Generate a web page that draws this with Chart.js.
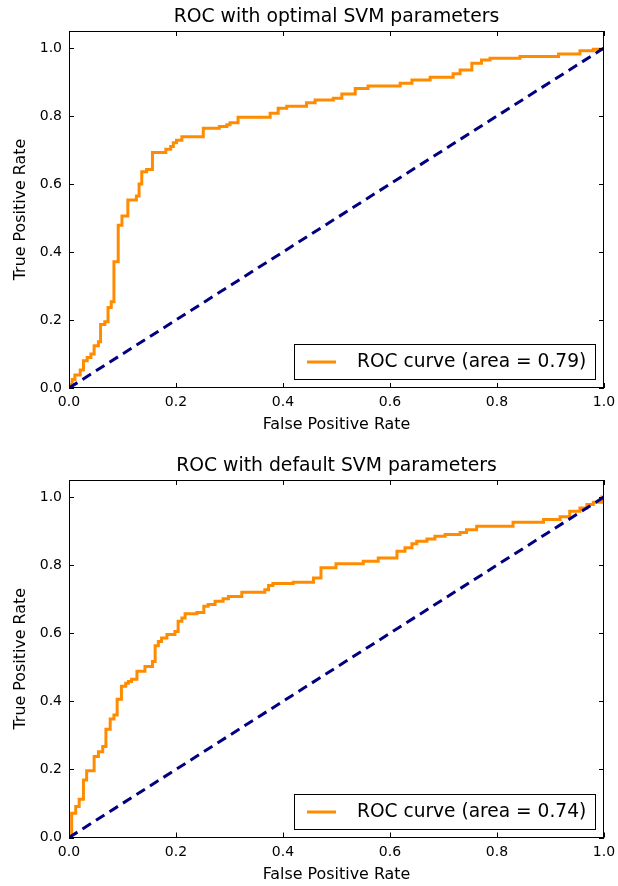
<!DOCTYPE html>
<html>
<head>
<meta charset="utf-8">
<script src="https://cdn.jsdelivr.net/npm/chart.js@4.4.1/dist/chart.umd.min.js"></script>
<style>
  html, body { margin: 0; padding: 0; background: #fff; }
  #wrap { position: relative; width: 618px; height: 886px; }
  canvas { position: absolute; left: 0; }
  #rocTop { top: 0; }
  #rocBottom { top: 449px; }
</style>
</head>
<body>
<div id="wrap">
  <canvas id="rocTop" width="618" height="449"></canvas>
  <canvas id="rocBottom" width="618" height="437"></canvas>
</div>
<script>
// ROC step points (fpr where the step happens, tpr after the step), tuned SVM
const optimalFpr = [0, 0, 0.006, 0.011, 0.021, 0.027, 0.034, 0.041, 0.047, 0.055,
  0.059, 0.067, 0.073, 0.079, 0.084, 0.092, 0.099, 0.110, 0.126, 0.131,
  0.136, 0.145, 0.156, 0.181, 0.190, 0.195, 0.201, 0.211, 0.251, 0.281,
  0.295, 0.301, 0.316, 0.376, 0.391, 0.407, 0.444, 0.460, 0.494, 0.510,
  0.535, 0.559, 0.619, 0.641, 0.675, 0.718, 0.731, 0.753, 0.771, 0.787,
  0.843, 0.915, 0.955, 0.980, 1.0];
const optimalTpr = [0, 0.010, 0.025, 0.038, 0.053, 0.080, 0.090, 0.100, 0.124, 0.136,
  0.187, 0.195, 0.237, 0.254, 0.371, 0.479, 0.506, 0.553, 0.565, 0.600,
  0.636, 0.643, 0.693, 0.702, 0.710, 0.721, 0.729, 0.739, 0.764, 0.769,
  0.774, 0.780, 0.796, 0.808, 0.823, 0.829, 0.839, 0.847, 0.852, 0.865,
  0.881, 0.888, 0.896, 0.906, 0.914, 0.924, 0.935, 0.955, 0.965, 0.970,
  0.975, 0.982, 0.992, 0.996, 1.0];

// ROC step points, SVM with default parameters
const defaultFpr = [0, 0.005, 0.0125, 0.019, 0.027, 0.033, 0.047, 0.055, 0.063, 0.069,
  0.077, 0.084, 0.090, 0.098, 0.106, 0.111, 0.117, 0.127, 0.142, 0.156,
  0.161, 0.167, 0.173, 0.183, 0.198, 0.204, 0.211, 0.217, 0.239, 0.252,
  0.260, 0.273, 0.288, 0.298, 0.323, 0.366, 0.373, 0.381, 0.419, 0.457,
  0.471, 0.499, 0.550, 0.578, 0.613, 0.628, 0.641, 0.650, 0.669, 0.684,
  0.703, 0.731, 0.743, 0.762, 0.830, 0.887, 0.918, 0.936, 0.955, 0.968,
  0.980, 0.996, 1.0];
const defaultTpr = [0, 0.071, 0.091, 0.112, 0.169, 0.196, 0.238, 0.252, 0.267, 0.318,
  0.348, 0.360, 0.406, 0.444, 0.453, 0.458, 0.465, 0.488, 0.502, 0.517,
  0.563, 0.576, 0.586, 0.596, 0.605, 0.635, 0.645, 0.657, 0.661, 0.679,
  0.684, 0.694, 0.701, 0.708, 0.720, 0.728, 0.740, 0.746, 0.750, 0.762,
  0.792, 0.804, 0.811, 0.821, 0.841, 0.851, 0.863, 0.870, 0.877, 0.885,
  0.890, 0.896, 0.904, 0.914, 0.926, 0.934, 0.942, 0.958, 0.968, 0.978,
  0.985, 1.0, 1.0];

// chance diagonal
const chanceFpr = [0, 1];
const chanceTpr = [0, 1];

const aucOptimal = 0.79;
const aucDefault = 0.74;
const rateTicks = [0, 0.2, 0.4, 0.6, 0.8, 1.0];
const titles = ['ROC with optimal SVM parameters', 'ROC with default SVM parameters'];

const FONT = 'DejaVu Sans';

// box frame, inward ticks on all four sides, and the legend box
const frameAndLegend = {
  id: 'frameAndLegend',
  afterDatasetsDraw(chart) {
    const { ctx, chartArea: a, scales } = chart;
    ctx.save();
    ctx.strokeStyle = '#000';
    ctx.lineWidth = 1;
    ctx.beginPath();
    scales.x.ticks.forEach(t => {
      const px = Math.round(scales.x.getPixelForValue(t.value)) + 0.5;
      ctx.moveTo(px, a.bottom); ctx.lineTo(px, a.bottom - 5);
      ctx.moveTo(px, a.top); ctx.lineTo(px, a.top + 5);
    });
    scales.y.ticks.forEach(t => {
      const py = Math.round(scales.y.getPixelForValue(t.value)) + 0.5;
      ctx.moveTo(a.left, py); ctx.lineTo(a.left + 5, py);
      ctx.moveTo(a.right, py); ctx.lineTo(a.right - 5, py);
    });
    ctx.stroke();
    ctx.strokeRect(Math.round(a.left) + 0.5, Math.round(a.top) + 0.5,
      Math.round(a.right - a.left) - 1, Math.round(a.bottom - a.top) - 1);

    const ds = chart.data.datasets.find(d => d.inLegend);
    ctx.font = '18.6px "' + FONT + '"';
    const tw = ctx.measureText(ds.label).width;
    const h = 35;
    const w = Math.round(13 + 29 + 21 + tw + 9);
    const x1 = Math.round(a.right - 9 - w);
    const y1 = Math.round(a.bottom - 9 - h);
    ctx.fillStyle = '#fff';
    ctx.fillRect(x1, y1, w, h);
    ctx.strokeStyle = '#000';
    ctx.lineWidth = 1;
    ctx.strokeRect(x1 + 0.5, y1 + 0.5, w, h);
    const cy = y1 + h / 2 + 0.5;
    ctx.strokeStyle = ds.borderColor;
    ctx.lineWidth = 3;
    ctx.beginPath();
    ctx.moveTo(x1 + 13, cy); ctx.lineTo(x1 + 42, cy);
    ctx.stroke();
    ctx.fillStyle = '#000';
    ctx.textAlign = 'left';
    ctx.textBaseline = 'middle';
    ctx.fillText(ds.label, x1 + 63, cy);
    ctx.restore();
  }
};

function toPoints(xs, ys) {
  return xs.map((x, i) => ({ x: x, y: ys[i] }));
}

function rocChart(id, fpr, tpr, auc, title, xAxisHeight, xTitlePad) {
  return new Chart(document.getElementById(id), {
    type: 'line',
    data: {
      datasets: [
        {
          label: 'chance',
          data: toPoints(chanceFpr, chanceTpr),
          borderColor: '#000080',
          borderWidth: 3,
          borderDash: [10, 6],
          pointRadius: 0,
          tension: 0,
          fill: false
        },
        {
          label: 'ROC curve (area = ' + auc.toFixed(2) + ')',
          inLegend: true,
          data: toPoints(fpr, tpr),
          borderColor: '#ff8c00',
          borderWidth: 3,
          stepped: 'before',
          borderJoinStyle: 'miter',
          pointRadius: 0,
          fill: false
        }
      ]
    },
    options: {
      responsive: false,
      animation: false,
      devicePixelRatio: 1,
      layout: { padding: { left: 0, right: 14, top: 0, bottom: 0 } },
      plugins: {
        legend: { display: false },
        tooltip: { enabled: false },
        title: {
          display: true,
          fullSize: false,
          text: title,
          color: '#000',
          font: { family: FONT, size: 18.8, weight: 'normal' },
          padding: { top: 6.2, bottom: 2.24 }
        }
      },
      scales: {
        x: {
          type: 'linear',
          min: 0,
          max: 1,
          grid: { display: false, drawTicks: false },
          border: { display: false },
          afterBuildTicks: s => { s.ticks = rateTicks.map(v => ({ value: v })); },
          afterFit: s => { s.height = xAxisHeight; s.paddingLeft = 0; s.paddingRight = 0; },
          ticks: {
            color: '#000',
            font: { family: FONT, size: 14 },
            padding: 6,
            maxRotation: 0,
            autoSkip: false,
            callback: v => Number(v).toFixed(1)
          },
          title: {
            display: true,
            text: 'False Positive Rate',
            color: '#000',
            font: { family: FONT, size: 15.9 },
            padding: { top: 0, bottom: xTitlePad }
          }
        },
        y: {
          type: 'linear',
          min: 0,
          max: 1.05,
          grid: { display: false, drawTicks: false },
          border: { display: false },
          afterBuildTicks: s => { s.ticks = rateTicks.map(v => ({ value: v })); },
          afterFit: s => { s.width = 69; s.paddingTop = 0; s.paddingBottom = 0; },
          ticks: {
            color: '#000',
            font: { family: FONT, size: 14 },
            padding: 7,
            autoSkip: false,
            callback: v => Number(v).toFixed(1)
          },
          title: {
            display: true,
            text: 'True Positive Rate',
            color: '#000',
            font: { family: FONT, size: 15.9 },
            padding: { top: 11.7, bottom: 0 }
          }
        }
      }
    },
    plugins: [frameAndLegend]
  });
}

rocChart('rocTop', optimalFpr, optimalTpr, aucOptimal, titles[0], 61, 14.3);
rocChart('rocBottom', defaultFpr, defaultTpr, aucDefault, titles[1], 48.5, 1.8);
</script>
</body>
</html>
